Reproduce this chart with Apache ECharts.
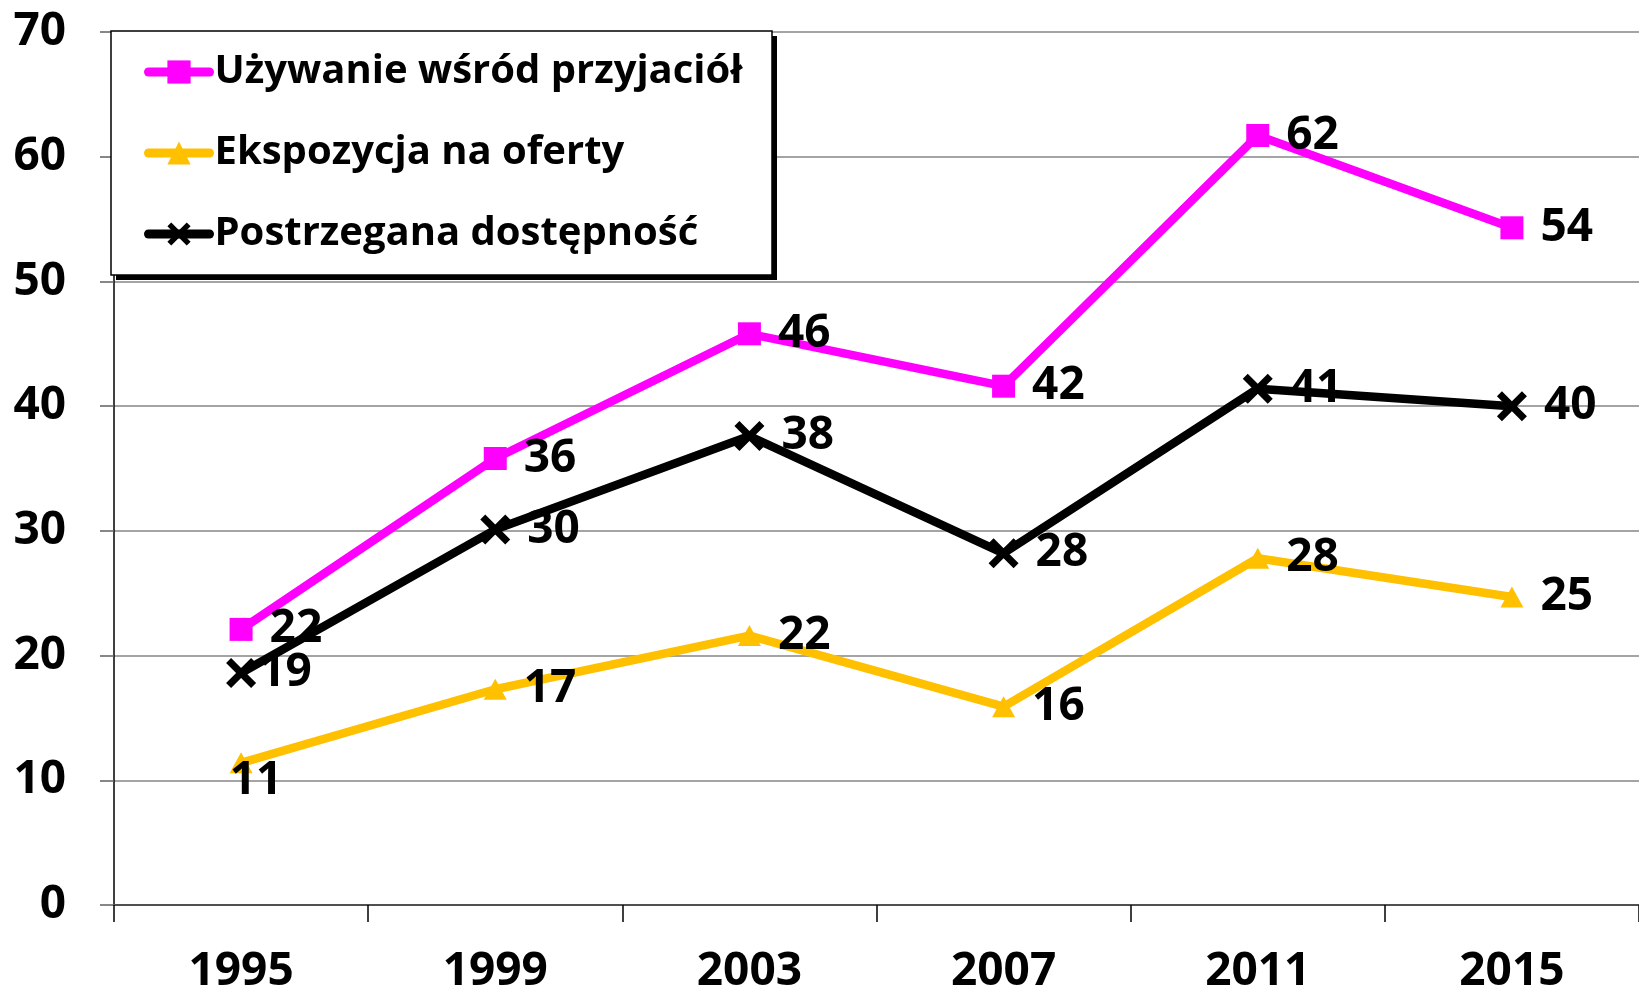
<!DOCTYPE html>
<html><head><meta charset="utf-8">
<script src="https://cdn.jsdelivr.net/npm/echarts@6/dist/echarts.min.js"></script>
<style>html,body{margin:0;padding:0;background:#fff}#c{width:1639px;height:995px}</style>
</head><body><div id="c"></div>
<script>
const years = ['1995', '1999', '2003', '2007', '2011', '2015'];
const seriesNames = ['Używanie wśród przyjaciół', 'Ekspozycja na oferty', 'Postrzegana dostępność'];
const usage = [22.1, 35.8, 45.8, 41.6, 61.7, 54.3];
const exposure = [11.4, 17.3, 21.6, 15.9, 27.8, 24.7];
const availability = [18.6, 30.1, 37.6, 28.2, 41.4, 40.0];
const yMin = 0, yMax = 70, yStep = 10;

const FONT = 'Open Sans';
const XSYM = 'path://M0,4 L4,0 L12,8 L20,0 L24,4 L16,12 L24,20 L20,24 L12,16 L4,24 L0,20 L8,12 Z';

const baseLabel = {
  show: true, position: 'right', distance: 17,
  fontFamily: FONT, fontWeight: 'bold', fontSize: 46, color: '#000',
  formatter: p => String(Math.round(p.value))
};

function withOverrides(values, overrides) {
  return values.map((v, i) => overrides[i] ? { value: v, label: overrides[i] } : v);
}

const LB = { x: 111, y: 31, w: 661, h: 244, sh: 5 };

const chart = echarts.init(document.getElementById('c'), null, { renderer: 'canvas' });
chart.setOption({
  backgroundColor: '#fff',
  animation: false,
  grid: { left: 114, top: 32, width: 1538, height: 875, containLabel: false },
  graphic: [
    { type: 'rect', z: 10, shape: { x: LB.x + LB.sh, y: LB.y + LB.sh, width: LB.w, height: LB.h },
      style: { fill: '#000' } },
    { type: 'rect', z: 11, shape: { x: LB.x, y: LB.y, width: LB.w, height: LB.h },
      style: { fill: '#fff', stroke: '#000', lineWidth: 1.5 } }
  ],
  legend: {
    z: 12,
    orient: 'vertical', left: LB.x, top: LB.y,
    padding: [18, 30, 18, 33],
    itemWidth: 61, itemHeight: 29, itemGap: 35,
    backgroundColor: 'transparent', borderWidth: 0,
    lineStyle: { width: 9, cap: 'round' },
    textStyle: { fontFamily: FONT, fontWeight: 'bold', fontSize: 40, lineHeight: 46, color: '#000' },
    data: seriesNames
  },
  xAxis: {
    type: 'category', data: years, boundaryGap: true,
    axisLine: { lineStyle: { color: '#505050', width: 2 } },
    axisTick: { show: true, length: 17, lineStyle: { color: '#000', width: 1.5 } },
    axisLabel: { margin: 44, fontFamily: FONT, fontWeight: 'bold', fontSize: 46, color: '#000' }
  },
  yAxis: {
    type: 'value', min: yMin, max: yMax, interval: yStep,
    axisLine: { show: true, lineStyle: { color: '#000', width: 1.5 } },
    axisTick: { show: true, length: 14, lineStyle: { color: '#606060', width: 1.5 } },
    splitLine: { show: true, lineStyle: { color: '#868686', width: 1.5 } },
    axisLabel: { margin: 48, fontFamily: FONT, fontWeight: 'bold', fontSize: 46, color: '#000' }
  },
  series: [
    {
      name: seriesNames[0], type: 'line', data: usage,
      symbol: 'rect', symbolSize: 23,
      lineStyle: { color: '#FF00FF', width: 8.5 },
      itemStyle: { color: '#FF00FF' },
      label: baseLabel, z: 3
    },
    {
      name: seriesNames[1], type: 'line',
      data: withOverrides(exposure, { 0: { position: 'inside', offset: [15, 18] } }),
      symbol: 'triangle', symbolSize: [23, 21],
      lineStyle: { color: '#FFC000', width: 8.5 },
      itemStyle: { color: '#FFC000' },
      label: baseLabel, z: 2
    },
    {
      name: seriesNames[2], type: 'line',
      data: withOverrides(availability, { 0: { distance: 3 } }),
      symbol: XSYM, symbolSize: 30,
      lineStyle: { color: '#000', width: 8.5 },
      itemStyle: { color: '#000' },
      label: baseLabel, z: 2
    }
  ]
});
</script>
</body></html>
